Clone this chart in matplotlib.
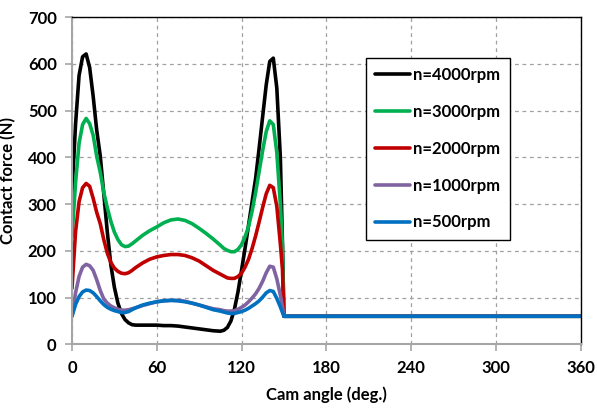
import matplotlib
matplotlib.use("Agg")
import matplotlib.pyplot as plt

# Cam angle (deg.)
angle = [0, 2.5, 5, 7.5, 10, 12.5, 15, 17.5, 20, 22.5, 25, 27.5, 30, 32.5, 35, 37.5, 40, 42.5, 45,
         50, 55, 60, 65, 70, 75, 80, 85, 90, 95, 100,
         105, 107.5, 110, 112.5, 115, 117.5, 120, 122.5, 125, 127.5, 130, 132.5, 135, 137.5,
         140, 142.5, 145, 147.5,
         149, 150, 360]

f_4000 = [323, 470, 575, 615, 621, 592, 530, 458, 403, 322, 240, 170, 122, 88, 66, 53, 46, 42, 41,
          41, 41, 41, 40, 40, 39, 37, 35, 33, 31, 29,
          28, 30, 36, 50, 75, 112, 158, 205, 255, 305, 355, 420, 488, 555, 605, 612, 548, 400,
          215, 60, 60]
f_3000 = [230, 345, 430, 470, 483, 472, 447, 402, 368, 325, 292, 263, 240, 224, 213, 209, 210, 215, 221,
          233, 243, 251, 260, 266, 268, 265, 258, 248, 237, 225,
          212, 205, 201, 198, 198, 203, 213, 230, 252, 285, 325, 370, 415, 455, 478, 470, 410, 300,
          210, 60, 60]
f_2000 = [120, 240, 305, 335, 344, 338, 312, 282, 258, 224, 195, 175, 163, 156, 152, 151, 153, 158, 164,
          174, 182, 187, 190, 192, 192, 190, 185, 178, 168, 158,
          150, 146, 142, 141, 141, 145, 152, 165, 182, 205, 232, 262, 293, 322, 340, 335, 295, 215,
          160, 60, 60]
f_1000 = [60, 110, 145, 165, 171, 168, 158, 138, 115, 97, 88, 82, 78, 75, 73, 73, 74, 76, 78,
          83, 87, 91, 93, 94, 94, 92, 88, 84, 80, 76,
          74, 72, 71, 71, 72, 75, 79, 84, 91, 99, 108, 120, 135, 153, 167, 165, 140, 105,
          80, 60, 60]
f_500 = [60, 85, 102, 112, 116, 115, 110, 102, 93, 85, 79, 75, 72, 70, 68, 68, 70, 74, 78,
         84, 88, 91, 93, 94, 93, 91, 88, 84, 79, 74,
         71, 69, 67, 66, 66, 68, 70, 73, 77, 82, 87, 93, 101, 110, 115, 113, 98, 80,
         68, 60, 60]

labels = ["n=4000rpm", "n=3000rpm", "n=2000rpm", "n=1000rpm", "n=500rpm"]
colors = ["#000000", "#00b050", "#c00000", "#8064a2", "#0070c0"]
series = [f_4000, f_3000, f_2000, f_1000, f_500]

xticks = [0, 60, 120, 180, 240, 300, 360]
yticks = [0, 100, 200, 300, 400, 500, 600, 700]

plt.rcParams['font.family'] = ['Lato', 'DejaVu Sans']
plt.rcParams['font.weight'] = 'bold'

fig = plt.figure(figsize=(5.97, 4.12), dpi=100)
ax = fig.add_axes([0.1206, 0.1643, 0.8518, 0.7944])

for ys, lab, c in zip(series, labels, colors):
    ax.plot(angle, ys, color=c, lw=2.6, label=lab, solid_joinstyle='round',
            solid_capstyle='round')

ax.set_xlim(0, 360)
ax.set_ylim(0, 700)
ax.set_xticks(xticks)
ax.set_yticks(yticks)
ax.grid(True, color='#a0a0a0', linestyle=(0, (3, 3)), lw=0.9)
ax.set_axisbelow(True)

for s in ['top', 'right']:
    ax.spines[s].set_color('black')
    ax.spines[s].set_linewidth(1.0)
for s in ['left', 'bottom']:
    ax.spines[s].set_color('#a6a6a6')
    ax.spines[s].set_linewidth(1.5)

ax.tick_params(axis='both', direction='out', length=5, width=1.2, color='#a6a6a6',
               labelsize=12, pad=6)
for t in ax.get_xticklabels() + ax.get_yticklabels():
    t.set_fontweight('bold')

ax.set_xlabel("Cam angle (deg.)", fontsize=12, fontweight='bold', labelpad=8)
ax.set_ylabel("Contact force (N)", fontsize=12, fontweight='bold', labelpad=8)

leg = ax.legend(loc='upper left', bbox_to_anchor=(0.578, 0.875), frameon=True, fancybox=False,
                edgecolor='black', framealpha=1, fontsize=12, handlelength=2.1,
                labelspacing=1.25, borderpad=0.55, handletextpad=0.2, borderaxespad=0)
leg.get_frame().set_linewidth(1.0)
for t in leg.get_texts():
    t.set_fontweight('bold')

fig.savefig("out.png", dpi=100)
